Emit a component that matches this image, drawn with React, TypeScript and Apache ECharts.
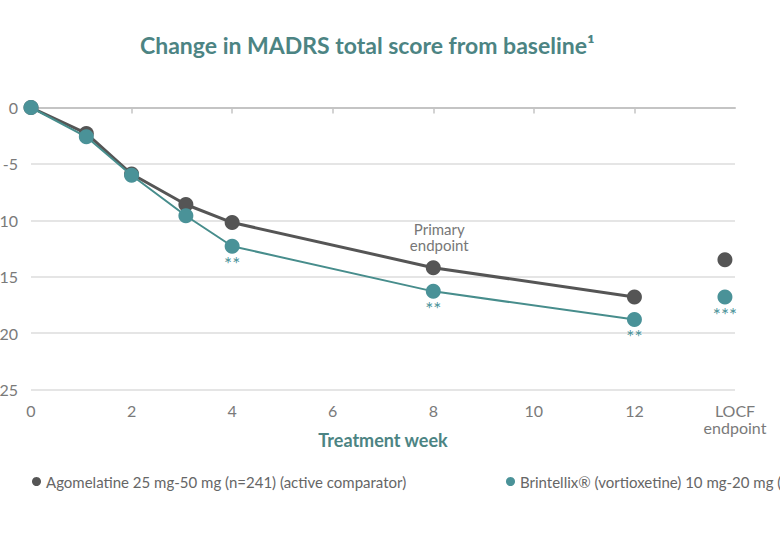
import React, { useEffect, useRef } from "react";
import * as echarts from "echarts";

const TITLE = "Change in MADRS total score from baseline¹";
const X_NAME = "Treatment week";
const AGO_NAME = "Agomelatine 25 mg-50 mg (n=241) (active comparator)";
const BRI_NAME = "Brintellix® (vortioxetine) 10 mg-20 mg (n=252)";

const weeks = [0, 1.1, 2, 3.08, 4, 8, 12];
const agoValues = [0, -2.3, -5.9, -8.6, -10.2, -14.2, -16.8];
const briValues = [0, -2.6, -6.0, -9.6, -12.3, -16.3, -18.8];
const locfX = 13.8;
const agoLocf = -13.5;
const briLocf = -16.8;
const briMarks = ["", "", "", "", "**", "**", "**"];
const briLocfMark = "***";
const xTicks = [0, 2, 4, 6, 8, 10, 12];
const LOCF_LABEL = "LOCF\nendpoint";
const PRIMARY_LABEL = "Primary\nendpoint";
const primaryIndex = 5;

const GREY = "#555555";
const TEAL = "#4a9298";
const TEAL_LINE = "#478d8c";
const TITLE_TEAL = "#4c8483";
const FONT = "Lato, 'Noto Sans', sans-serif";

export default function App() {
  const ref = useRef<HTMLDivElement>(null);
  useEffect(() => {
    if (!ref.current) return;
    const chart = echarts.init(ref.current, undefined, { renderer: "svg" });
    const starLabel = (text: string) => ({
      show: true,
      position: "bottom",
      distance: 0,
      formatter: text,
      color: TEAL,
      fontSize: 19,
      fontFamily: FONT,
    });
    const agoData = weeks.map((w, i) => {
      const item: any = { value: [w, agoValues[i]] };
      if (i === primaryIndex) {
        item.label = {
          show: true,
          position: "top",
          distance: 7,
          offset: [6, 0],
          formatter: PRIMARY_LABEL,
          color: "#777",
          fontSize: 15,
          lineHeight: 16,
          fontFamily: FONT,
        };
      }
      return item;
    });
    const briData = weeks.map((w, i) => {
      const item: any = { value: [w, briValues[i]] };
      if (briMarks[i]) item.label = starLabel(briMarks[i]);
      return item;
    });
    chart.setOption({
      animation: false,
      backgroundColor: "#ffffff",
      textStyle: { fontFamily: FONT },
      title: {
        text: TITLE,
        left: 135,
        top: 28,
        textStyle: { color: TITLE_TEAL, fontSize: 23, fontWeight: "bold", fontFamily: FONT },
      },
      graphic: [
        {
          type: "text",
          x: 383,
          y: 440,
          style: {
            text: X_NAME,
            fill: TITLE_TEAL,
            fontSize: 18,
            fontWeight: "bold",
            fontFamily: FONT,
            textAlign: "center",
            textVerticalAlign: "middle",
          },
        },
      ],
      legend: [
        {
          data: [{ name: AGO_NAME, icon: "circle" }],
          left: 27,
          top: 469,
          itemWidth: 9,
          itemHeight: 9,
          textStyle: { color: "#666", fontSize: 15, fontFamily: FONT },
          selectedMode: false,
        },
        {
          data: [{ name: BRI_NAME, icon: "circle" }],
          left: 501,
          top: 469,
          itemWidth: 9,
          itemHeight: 9,
          textStyle: { color: "#666", fontSize: 15, fontFamily: FONT },
          selectedMode: false,
        },
      ],
      grid: {
        left: 31,
        right: 45,
        top: 107.5,
        bottom: 145.5,
        containLabel: false,
        outerBoundsMode: "none",
      },
      xAxis: {
        type: "value",
        min: 0,
        max: 14,
        interval: 2,
        axisLine: { show: true, lineStyle: { color: "#c4c4c4", width: 2 } },
        axisTick: { show: true, length: 6, lineStyle: { color: "#c4c4c4", width: 1.5 }, customValues: xTicks },
        splitLine: { show: false },
        axisLabel: {
          color: "#7a7a7a",
          fontSize: 16,
          margin: 12,
          lineHeight: 17,
          showMaxLabel: true,
          showMinLabel: true,
          fontFamily: FONT,
          formatter: (v: number) => (v === 14 ? LOCF_LABEL : String(v)),
        },
      },
      yAxis: {
        type: "value",
        min: -25,
        max: 0,
        interval: 5,
        axisLine: { show: false },
        axisTick: { show: false },
        splitLine: { show: true, lineStyle: { color: "#dddddd", width: 1.5 } },
        axisLabel: { color: "#7a7a7a", fontSize: 16, margin: 13, fontFamily: FONT },
      },
      series: [
        {
          name: AGO_NAME,
          type: "line",
          data: agoData,
          symbol: "circle",
          symbolSize: 15,
          itemStyle: { color: GREY },
          lineStyle: { color: GREY, width: 3 },
          z: 2,
        },
        {
          name: BRI_NAME,
          type: "line",
          data: briData,
          symbol: "circle",
          symbolSize: 15,
          itemStyle: { color: TEAL },
          lineStyle: { color: TEAL_LINE, width: 2 },
          z: 3,
        },
        {
          name: AGO_NAME,
          type: "scatter",
          data: [[locfX, agoLocf]],
          symbolSize: 15,
          itemStyle: { color: GREY, opacity: 1 },
        },
        {
          name: BRI_NAME,
          type: "scatter",
          data: [[locfX, briLocf]],
          symbolSize: 15,
          itemStyle: { color: TEAL, opacity: 1 },
          label: starLabel(briLocfMark),
        },
      ],
    });
    return () => chart.dispose();
  }, []);
  return (
    <div
      ref={ref}
      style={{ position: "absolute", left: 0, top: 0, width: 780, height: 535 }}
    />
  );
}
